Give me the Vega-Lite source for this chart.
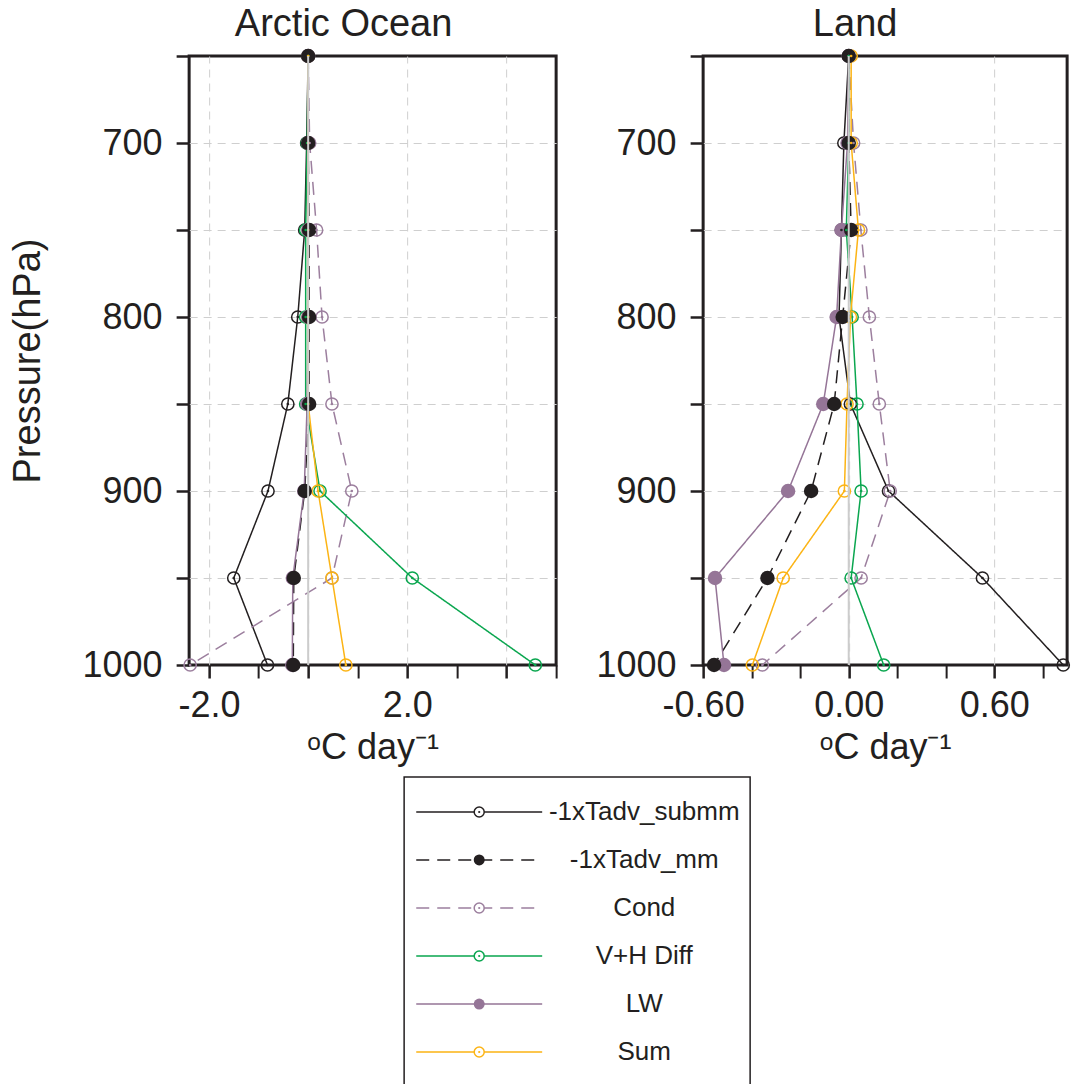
{
  "$schema": "https://vega.github.io/schema/vega-lite/v6.json",
  "background": "white",
  "padding": {"left": 7, "top": 4, "right": 0, "bottom": 0},
  "config": {
    "font": "Liberation Sans",
    "view": {"stroke": "#231f20", "strokeWidth": 3},
    "axis": {
      "domain": false,
      "labelFontSize": 36,
      "labelColor": "#231f20",
      "labelFlush": false,
      "tickColor": "#231f20",
      "tickWidth": 2.5,
      "titleFontSize": 36,
      "titleFontWeight": "normal",
      "titleColor": "#231f20",
      "gridColor": "#cfcfcf",
      "gridDash": [8, 6],
      "gridWidth": 1,
      "labelOverlap": false
    },
    "title": {"fontSize": 38, "fontWeight": "normal", "color": "#231f20", "anchor": "middle"}
  },
  "datasets": {
    "prof": [
      {"r": "Arctic Ocean", "s": "-1xTadv_submm", "p": 650, "v": 0},
      {"r": "Arctic Ocean", "s": "-1xTadv_submm", "p": 700, "v": -0.03},
      {"r": "Arctic Ocean", "s": "-1xTadv_submm", "p": 750, "v": -0.07},
      {"r": "Arctic Ocean", "s": "-1xTadv_submm", "p": 800, "v": -0.21},
      {"r": "Arctic Ocean", "s": "-1xTadv_submm", "p": 850, "v": -0.41},
      {"r": "Arctic Ocean", "s": "-1xTadv_submm", "p": 900, "v": -0.81},
      {"r": "Arctic Ocean", "s": "-1xTadv_submm", "p": 950, "v": -1.50},
      {"r": "Arctic Ocean", "s": "-1xTadv_submm", "p": 1000, "v": -0.82},
      {"r": "Arctic Ocean", "s": "-1xTadv_mm", "p": 650, "v": 0},
      {"r": "Arctic Ocean", "s": "-1xTadv_mm", "p": 700, "v": 0},
      {"r": "Arctic Ocean", "s": "-1xTadv_mm", "p": 750, "v": 0.02},
      {"r": "Arctic Ocean", "s": "-1xTadv_mm", "p": 800, "v": 0.02},
      {"r": "Arctic Ocean", "s": "-1xTadv_mm", "p": 850, "v": 0.02},
      {"r": "Arctic Ocean", "s": "-1xTadv_mm", "p": 900, "v": -0.07},
      {"r": "Arctic Ocean", "s": "-1xTadv_mm", "p": 950, "v": -0.29},
      {"r": "Arctic Ocean", "s": "-1xTadv_mm", "p": 1000, "v": -0.30},
      {"r": "Arctic Ocean", "s": "Cond", "p": 650, "v": 0},
      {"r": "Arctic Ocean", "s": "Cond", "p": 700, "v": 0.03},
      {"r": "Arctic Ocean", "s": "Cond", "p": 750, "v": 0.17},
      {"r": "Arctic Ocean", "s": "Cond", "p": 800, "v": 0.28},
      {"r": "Arctic Ocean", "s": "Cond", "p": 850, "v": 0.48},
      {"r": "Arctic Ocean", "s": "Cond", "p": 900, "v": 0.88},
      {"r": "Arctic Ocean", "s": "Cond", "p": 950, "v": 0.48},
      {"r": "Arctic Ocean", "s": "Cond", "p": 1000, "v": -2.38},
      {"r": "Arctic Ocean", "s": "V+H Diff", "p": 650, "v": 0},
      {"r": "Arctic Ocean", "s": "V+H Diff", "p": 700, "v": -0.02},
      {"r": "Arctic Ocean", "s": "V+H Diff", "p": 750, "v": -0.05},
      {"r": "Arctic Ocean", "s": "V+H Diff", "p": 800, "v": -0.05},
      {"r": "Arctic Ocean", "s": "V+H Diff", "p": 850, "v": -0.05},
      {"r": "Arctic Ocean", "s": "V+H Diff", "p": 900, "v": 0.24},
      {"r": "Arctic Ocean", "s": "V+H Diff", "p": 950, "v": 2.10},
      {"r": "Arctic Ocean", "s": "V+H Diff", "p": 1000, "v": 4.58},
      {"r": "Arctic Ocean", "s": "LW", "p": 650, "v": 0},
      {"r": "Arctic Ocean", "s": "LW", "p": 700, "v": 0},
      {"r": "Arctic Ocean", "s": "LW", "p": 750, "v": 0},
      {"r": "Arctic Ocean", "s": "LW", "p": 800, "v": 0},
      {"r": "Arctic Ocean", "s": "LW", "p": 850, "v": -0.02},
      {"r": "Arctic Ocean", "s": "LW", "p": 900, "v": -0.08},
      {"r": "Arctic Ocean", "s": "LW", "p": 950, "v": -0.31},
      {"r": "Arctic Ocean", "s": "LW", "p": 1000, "v": -0.32},
      {"r": "Arctic Ocean", "s": "Sum", "p": 650, "v": 0},
      {"r": "Arctic Ocean", "s": "Sum", "p": 700, "v": 0},
      {"r": "Arctic Ocean", "s": "Sum", "p": 750, "v": 0},
      {"r": "Arctic Ocean", "s": "Sum", "p": 800, "v": 0},
      {"r": "Arctic Ocean", "s": "Sum", "p": 850, "v": 0},
      {"r": "Arctic Ocean", "s": "Sum", "p": 900, "v": 0.20},
      {"r": "Arctic Ocean", "s": "Sum", "p": 950, "v": 0.48},
      {"r": "Arctic Ocean", "s": "Sum", "p": 1000, "v": 0.76},
      {"r": "Land", "s": "-1xTadv_submm", "p": 650, "v": 0},
      {"r": "Land", "s": "-1xTadv_submm", "p": 700, "v": -0.02},
      {"r": "Land", "s": "-1xTadv_submm", "p": 750, "v": -0.03},
      {"r": "Land", "s": "-1xTadv_submm", "p": 800, "v": -0.04},
      {"r": "Land", "s": "-1xTadv_submm", "p": 850, "v": 0.007},
      {"r": "Land", "s": "-1xTadv_submm", "p": 900, "v": 0.164},
      {"r": "Land", "s": "-1xTadv_submm", "p": 950, "v": 0.551},
      {"r": "Land", "s": "-1xTadv_submm", "p": 1000, "v": 0.884},
      {"r": "Land", "s": "-1xTadv_mm", "p": 650, "v": 0},
      {"r": "Land", "s": "-1xTadv_mm", "p": 700, "v": 0},
      {"r": "Land", "s": "-1xTadv_mm", "p": 750, "v": 0.01},
      {"r": "Land", "s": "-1xTadv_mm", "p": 800, "v": -0.025},
      {"r": "Land", "s": "-1xTadv_mm", "p": 850, "v": -0.06},
      {"r": "Land", "s": "-1xTadv_mm", "p": 900, "v": -0.155},
      {"r": "Land", "s": "-1xTadv_mm", "p": 950, "v": -0.335},
      {"r": "Land", "s": "-1xTadv_mm", "p": 1000, "v": -0.555},
      {"r": "Land", "s": "Cond", "p": 650, "v": 0},
      {"r": "Land", "s": "Cond", "p": 700, "v": 0.02},
      {"r": "Land", "s": "Cond", "p": 750, "v": 0.05},
      {"r": "Land", "s": "Cond", "p": 800, "v": 0.085},
      {"r": "Land", "s": "Cond", "p": 850, "v": 0.126},
      {"r": "Land", "s": "Cond", "p": 900, "v": 0.171},
      {"r": "Land", "s": "Cond", "p": 950, "v": 0.051},
      {"r": "Land", "s": "Cond", "p": 1000, "v": -0.356},
      {"r": "Land", "s": "V+H Diff", "p": 650, "v": 0},
      {"r": "Land", "s": "V+H Diff", "p": 700, "v": 0},
      {"r": "Land", "s": "V+H Diff", "p": 750, "v": -0.01},
      {"r": "Land", "s": "V+H Diff", "p": 800, "v": 0.014},
      {"r": "Land", "s": "V+H Diff", "p": 850, "v": 0.034},
      {"r": "Land", "s": "V+H Diff", "p": 900, "v": 0.051},
      {"r": "Land", "s": "V+H Diff", "p": 950, "v": 0.01},
      {"r": "Land", "s": "V+H Diff", "p": 1000, "v": 0.144},
      {"r": "Land", "s": "LW", "p": 650, "v": 0},
      {"r": "Land", "s": "LW", "p": 700, "v": -0.005},
      {"r": "Land", "s": "LW", "p": 750, "v": -0.03},
      {"r": "Land", "s": "LW", "p": 800, "v": -0.05},
      {"r": "Land", "s": "LW", "p": 850, "v": -0.105},
      {"r": "Land", "s": "LW", "p": 900, "v": -0.25},
      {"r": "Land", "s": "LW", "p": 950, "v": -0.551},
      {"r": "Land", "s": "LW", "p": 1000, "v": -0.514},
      {"r": "Land", "s": "Sum", "p": 650, "v": 0.01},
      {"r": "Land", "s": "Sum", "p": 700, "v": 0.01},
      {"r": "Land", "s": "Sum", "p": 750, "v": 0.04},
      {"r": "Land", "s": "Sum", "p": 800, "v": 0.007},
      {"r": "Land", "s": "Sum", "p": 850, "v": -0.007},
      {"r": "Land", "s": "Sum", "p": 900, "v": -0.018},
      {"r": "Land", "s": "Sum", "p": 950, "v": -0.27},
      {"r": "Land", "s": "Sum", "p": 1000, "v": -0.397}
    ],
    "leg": [
      {"s": "-1xTadv_submm"},
      {"s": "-1xTadv_mm"},
      {"s": "Cond"},
      {"s": "V+H Diff"},
      {"s": "LW"},
      {"s": "Sum"}
    ]
  },
  "spacing": 9,
  "center": true,
  "vconcat": [
    {
      "spacing": 35,
      "resolve": {"scale": {"x": "independent", "y": "independent"}},
      "hconcat": [
        {
          "width": 367,
          "height": 609,
          "title": {"text": "Arctic Ocean", "offset": -6, "dx": -29},
          "data": {"name": "prof"},
          "transform": [{"filter": "datum.r == 'Arctic Ocean'"}],
          "layer": [
            {
              "mark": {"type": "line", "strokeWidth": 1.5},
              "encoding": {
                "x": {"field": "v", "type": "quantitative",
                  "scale": {"domain": [-2.4, 5.0], "nice": false, "zero": false},
                  "axis": {"values": [-2, -1.5, -1, -0.5, 0, 0.5, 1, 1.5, 2, 2.5, 3, 3.5, 4, 4.5, 5],
                    "tickSize": 13, "grid": true, "labelPadding": 10, "titlePadding": 7,
                    "gridOpacity": {"condition": {"test": "abs(round(datum.value * 2)) % 4 == 0", "value": 1}, "value": 0},
                    "tickWidth": {"condition": {"test": "abs(round(datum.value * 2)) % 4 == 0", "value": 2.5}, "value": 2},
                    "encode": {"ticks": {"update": {"y2": {"signal": "abs(round(datum.value * 2)) % 4 == 0 ? 13 : 7"}}}},
                    "labelExpr": "datum.value == -2 ? '-2.0' : datum.value == 2 ? '2.0' : ''",
                    "title": "ᵒC day⁻¹"}},
                "y": {"field": "p", "type": "quantitative",
                  "scale": {"domain": [650, 1000], "reverse": true, "nice": false, "zero": false},
                  "axis": {"values": [650, 700, 750, 800, 850, 900, 950, 1000], "tickSize": 13, "grid": true, "labelPadding": 14,
                    "gridOpacity": {"condition": {"test": "datum.value == 650 || datum.value == 1000", "value": 0}, "value": 1},
                    "labelExpr": "datum.value % 100 == 0 ? '' + datum.value : ''",
                    "title": "Pressure(hPa)", "titleX": -142, "titleFontSize": 38}},
                "color": {"field": "s", "type": "nominal", "legend": null,
                  "scale": {"domain": ["-1xTadv_submm", "-1xTadv_mm", "Cond", "V+H Diff", "LW", "Sum"],
                    "range": ["#231f20", "#231f20", "#9c7f9e", "#0aa64f", "#957597", "#fcb415"]}},
                "strokeDash": {"field": "s", "type": "nominal", "legend": null,
                  "scale": {"domain": ["-1xTadv_submm", "-1xTadv_mm", "Cond", "V+H Diff", "LW", "Sum"],
                    "range": [[1, 0], [13, 8], [13, 8], [1, 0], [1, 0], [1, 0]]}},
                "order": {"field": "p", "type": "quantitative"}
              }
            },
            {
              "transform": [{"filter": "datum.s != '-1xTadv_mm' && datum.s != 'LW'"}],
              "mark": {"type": "point", "shape": "circle", "filled": false, "size": 150, "strokeWidth": 1.5, "opacity": 1},
              "encoding": {
                "x": {"field": "v", "type": "quantitative"},
                "y": {"field": "p", "type": "quantitative"},
                "color": {"field": "s", "type": "nominal", "legend": null}
              }
            },
            {
              "transform": [{"filter": "datum.s == 'LW'"}],
              "mark": {"type": "circle", "size": 210, "opacity": 1},
              "encoding": {
                "x": {"field": "v", "type": "quantitative"},
                "y": {"field": "p", "type": "quantitative"},
                "color": {"field": "s", "type": "nominal", "legend": null}
              }
            },
            {
              "transform": [{"filter": "datum.s == '-1xTadv_mm'"}],
              "mark": {"type": "circle", "size": 210, "opacity": 1},
              "encoding": {
                "x": {"field": "v", "type": "quantitative"},
                "y": {"field": "p", "type": "quantitative"},
                "color": {"field": "s", "type": "nominal", "legend": null}
              }
            },
            {
              "transform": [{"filter": "datum.s != '-1xTadv_mm' && datum.s != 'LW'"}],
              "mark": {"type": "circle", "size": 7, "opacity": 1},
              "encoding": {
                "x": {"field": "v", "type": "quantitative"},
                "y": {"field": "p", "type": "quantitative"},
                "color": {"field": "s", "type": "nominal", "legend": null}
              }
            },
            {
              "data": {"values": [{}]},
              "mark": {"type": "rule", "color": "#cccccc", "strokeWidth": 2},
              "encoding": {"x": {"datum": 0, "type": "quantitative"}}
            }
          ]
        },
        {
          "width": 364,
          "height": 609,
          "title": {"text": "Land", "offset": -6, "dx": -30},
          "data": {"name": "prof"},
          "transform": [{"filter": "datum.r == 'Land'"}],
          "layer": [
            {
              "mark": {"type": "line", "strokeWidth": 1.5},
              "encoding": {
                "x": {"field": "v", "type": "quantitative",
                  "scale": {"domain": [-0.6, 0.9], "nice": false, "zero": false},
                  "axis": {"values": [-0.6, -0.5, -0.4, -0.3, -0.2, -0.1, 0, 0.1, 0.2, 0.3, 0.4, 0.5, 0.6, 0.7, 0.8, 0.9],
                    "tickSize": 13, "grid": true, "labelPadding": 10, "titlePadding": 7,
                    "gridOpacity": {"condition": {"test": "abs(round(datum.value * 10)) % 3 == 0 && round(datum.value * 10) != -6", "value": 1}, "value": 0},
                    "tickWidth": {"condition": {"test": "abs(round(datum.value * 10)) % 3 == 0", "value": 2.5}, "value": 2},
                    "encode": {"ticks": {"update": {"y2": {"signal": "abs(round(datum.value * 10)) % 3 == 0 ? 13 : 7"}}}},
                    "labelExpr": "round(datum.value * 10) == -6 ? '-0.60' : round(datum.value * 10) == 0 ? '0.00' : round(datum.value * 10) == 6 ? '0.60' : ''",
                    "title": "ᵒC day⁻¹"}},
                "y": {"field": "p", "type": "quantitative",
                  "scale": {"domain": [650, 1000], "reverse": true, "nice": false, "zero": false},
                  "axis": {"values": [650, 700, 750, 800, 850, 900, 950, 1000], "tickSize": 13, "grid": true, "labelPadding": 14,
                    "gridOpacity": {"condition": {"test": "datum.value == 650 || datum.value == 1000", "value": 0}, "value": 1},
                    "labelExpr": "datum.value % 100 == 0 ? '' + datum.value : ''",
                    "title": null}},
                "color": {"field": "s", "type": "nominal", "legend": null,
                  "scale": {"domain": ["-1xTadv_submm", "-1xTadv_mm", "Cond", "V+H Diff", "LW", "Sum"],
                    "range": ["#231f20", "#231f20", "#9c7f9e", "#0aa64f", "#957597", "#fcb415"]}},
                "strokeDash": {"field": "s", "type": "nominal", "legend": null,
                  "scale": {"domain": ["-1xTadv_submm", "-1xTadv_mm", "Cond", "V+H Diff", "LW", "Sum"],
                    "range": [[1, 0], [13, 8], [13, 8], [1, 0], [1, 0], [1, 0]]}},
                "order": {"field": "p", "type": "quantitative"}
              }
            },
            {
              "transform": [{"filter": "datum.s != '-1xTadv_mm' && datum.s != 'LW'"}],
              "mark": {"type": "point", "shape": "circle", "filled": false, "size": 150, "strokeWidth": 1.5, "opacity": 1},
              "encoding": {
                "x": {"field": "v", "type": "quantitative"},
                "y": {"field": "p", "type": "quantitative"},
                "color": {"field": "s", "type": "nominal", "legend": null}
              }
            },
            {
              "transform": [{"filter": "datum.s == 'LW'"}],
              "mark": {"type": "circle", "size": 210, "opacity": 1},
              "encoding": {
                "x": {"field": "v", "type": "quantitative"},
                "y": {"field": "p", "type": "quantitative"},
                "color": {"field": "s", "type": "nominal", "legend": null}
              }
            },
            {
              "transform": [{"filter": "datum.s == '-1xTadv_mm'"}],
              "mark": {"type": "circle", "size": 210, "opacity": 1},
              "encoding": {
                "x": {"field": "v", "type": "quantitative"},
                "y": {"field": "p", "type": "quantitative"},
                "color": {"field": "s", "type": "nominal", "legend": null}
              }
            },
            {
              "transform": [{"filter": "datum.s != '-1xTadv_mm' && datum.s != 'LW'"}],
              "mark": {"type": "circle", "size": 7, "opacity": 1},
              "encoding": {
                "x": {"field": "v", "type": "quantitative"},
                "y": {"field": "p", "type": "quantitative"},
                "color": {"field": "s", "type": "nominal", "legend": null}
              }
            },
            {
              "data": {"values": [{}]},
              "mark": {"type": "rule", "color": "#cccccc", "strokeWidth": 2},
              "encoding": {"x": {"datum": 0, "type": "quantitative"}}
            }
          ]
        }
      ]
    },
    {
      "width": 346,
      "height": 310,
      "view": {"stroke": "#231f20", "strokeWidth": 1.5},
      "data": {"name": "leg"},
      "encoding": {
        "y": {"field": "s", "type": "nominal",
          "axis": {"orient": "right", "labels": false, "ticks": false, "domain": false, "grid": false,
            "title": "x", "titleOpacity": 0, "titleFontSize": 2, "titlePadding": 106},
          "scale": {"type": "point", "padding": 0.729, "domain": ["-1xTadv_submm", "-1xTadv_mm", "Cond", "V+H Diff", "LW", "Sum"]}},
        "color": {"field": "s", "type": "nominal", "legend": null,
          "scale": {"domain": ["-1xTadv_submm", "-1xTadv_mm", "Cond", "V+H Diff", "LW", "Sum"],
            "range": ["#231f20", "#231f20", "#9c7f9e", "#0aa64f", "#957597", "#fcb415"]}}
      },
      "layer": [
        {
          "mark": {"type": "rule", "strokeWidth": 1.3},
          "encoding": {
            "x": {"datum": 0.035, "type": "quantitative", "scale": {"domain": [0, 1], "nice": false, "zero": false}, "axis": null},
            "x2": {"datum": 0.399},
            "strokeDash": {"field": "s", "type": "nominal", "legend": null,
              "scale": {"domain": ["-1xTadv_submm", "-1xTadv_mm", "Cond", "V+H Diff", "LW", "Sum"],
                "range": [[1, 0], [18, 9], [18, 9], [1, 0], [1, 0], [1, 0]]}}
          }
        },
        {
          "transform": [{"filter": "datum.s != '-1xTadv_mm' && datum.s != 'LW'"}],
          "mark": {"type": "point", "shape": "circle", "filled": true, "fill": "white", "size": 100, "strokeWidth": 1.5, "opacity": 1},
          "encoding": {"x": {"datum": 0.217, "type": "quantitative"}, "stroke": {"field": "s", "type": "nominal", "legend": null, "scale": {"domain": ["-1xTadv_submm", "-1xTadv_mm", "Cond", "V+H Diff", "LW", "Sum"],
            "range": ["#231f20", "#231f20", "#9c7f9e", "#0aa64f", "#957597", "#fcb415"]}}}
        },
        {
          "transform": [{"filter": "datum.s == '-1xTadv_mm' || datum.s == 'LW'"}],
          "mark": {"type": "circle", "size": 120, "opacity": 1},
          "encoding": {"x": {"datum": 0.217, "type": "quantitative"}}
        },
        {
          "transform": [{"filter": "datum.s != '-1xTadv_mm' && datum.s != 'LW'"}],
          "mark": {"type": "circle", "size": 5, "opacity": 1},
          "encoding": {"x": {"datum": 0.217, "type": "quantitative"}}
        },
        {
          "mark": {"type": "text", "fontSize": 26, "align": "center", "baseline": "middle", "color": "#231f20"},
          "encoding": {"x": {"datum": 0.694, "type": "quantitative"}, "text": {"field": "s"}, "color": {"value": "#231f20"}}
        }
      ]
    }
  ]
}
